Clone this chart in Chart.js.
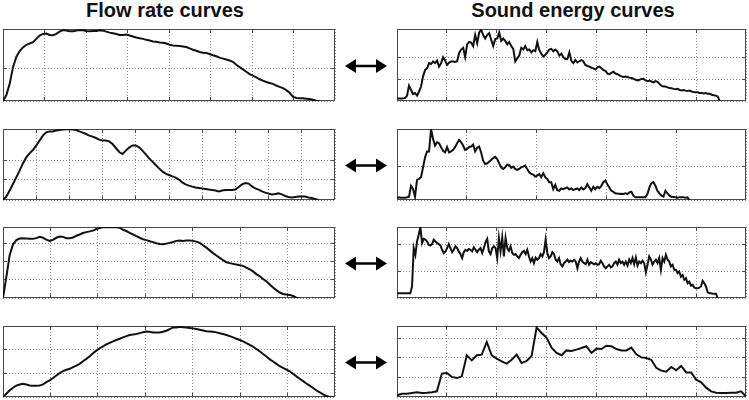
<!DOCTYPE html>
<html>
<head>
<meta charset="utf-8">
<title>Flow rate vs sound energy curves</title>
<script src="https://cdn.jsdelivr.net/npm/chart.js@4.4.0/dist/chart.umd.min.js"></script>
<style>
    body {
        margin: 0;
        width: 749px;
        height: 400px;
        position: relative;
        overflow: hidden;
        background: #fff;
        font-family: "Liberation Sans", Arial, sans-serif;
    }
    .title {
        position: absolute;
        top: 0;
        font-size: 20px;
        line-height: 20px;
        font-weight: bold;
        color: #111;
        white-space: nowrap;
        transform: translateX(-50%);
    }
    canvas { position: absolute; }
    #arrows { position: absolute; left: 0; top: 0; }
</style>
</head>
<body>
<div class="title" style="left:165px">Flow rate curves</div>
<div class="title" style="left:573px">Sound energy curves</div>
<svg id="arrows" width="749" height="400"></svg>

<script>
// Flow rate curves (left column), y in grid units, sampled every flowStep grid units
const flow1 = [0, 0.18, 0.52, 1.03, 1.34, 1.52, 1.63, 1.71, 1.75, 1.79,
    1.89, 1.99, 2.04, 2.05, 2.01, 2.00, 2.04, 2.11, 2.16, 2.14,
    2.12, 2.12, 2.14, 2.16, 2.15, 2.13, 2.12, 2.13, 2.13, 2.15,
    2.14, 2.11, 2.08, 2.06, 2.04, 2.01, 2.01, 2.02, 1.99, 1.96,
    1.93, 1.91, 1.89, 1.86, 1.84, 1.81, 1.80, 1.78, 1.77, 1.75,
    1.71, 1.69, 1.68, 1.67, 1.66, 1.64, 1.60, 1.56, 1.53, 1.49,
    1.47, 1.46, 1.43, 1.39, 1.36, 1.32, 1.29, 1.26, 1.23, 1.19,
    1.10, 1.03, 0.96, 0.89, 0.82, 0.77, 0.72, 0.66, 0.62, 0.58,
    0.55, 0.52, 0.47, 0.43, 0.39, 0.33, 0.25, 0.13, 0.09, 0.08,
    0.08, 0.07, 0.06, 0.04, 0.01, 0];
const flow2 = [0, 0.17, 0.47, 0.80, 1.13, 1.47, 1.83, 2.13, 2.33, 2.50,
    2.72, 2.97, 3.22, 3.38, 3.43, 3.43, 3.47, 3.50, 3.52, 3.54,
    3.54, 3.53, 3.50, 3.43, 3.37, 3.30, 3.22, 3.17, 3.10, 3.02,
    2.97, 2.97, 2.93, 2.80, 2.60, 2.40, 2.30, 2.47, 2.62, 2.73,
    2.73, 2.63, 2.47, 2.28, 2.08, 1.92, 1.75, 1.58, 1.43, 1.32,
    1.25, 1.18, 1.12, 1.02, 0.88, 0.78, 0.72, 0.67, 0.63, 0.60,
    0.57, 0.55, 0.52, 0.50, 0.47, 0.43, 0.47, 0.50, 0.50, 0.50,
    0.52, 0.65, 0.78, 0.85, 0.82, 0.68, 0.58, 0.52, 0.43, 0.37,
    0.32, 0.28, 0.30, 0.33, 0.28, 0.20, 0.15, 0.13, 0.15, 0.17,
    0.18, 0.17, 0.13, 0.10, 0.05, 0];
const flow3 = [0, 1.15, 2.35, 2.94, 3.17, 3.26, 3.28, 3.26, 3.24, 3.24,
    3.28, 3.35, 3.30, 3.20, 3.13, 3.19, 3.30, 3.37, 3.35, 3.28,
    3.28, 3.31, 3.41, 3.48, 3.56, 3.61, 3.65, 3.69, 3.78, 3.83,
    3.87, 3.87, 3.87, 3.87, 3.87, 3.85, 3.74, 3.67, 3.57, 3.48,
    3.39, 3.30, 3.22, 3.17, 3.11, 3.06, 3.00, 2.96, 2.94, 2.98,
    3.02, 3.07, 3.13, 3.15, 3.13, 3.15, 3.15, 3.13, 3.09, 3.02,
    2.89, 2.76, 2.61, 2.46, 2.33, 2.20, 2.07, 1.96, 1.91, 1.87,
    1.83, 1.80, 1.76, 1.67, 1.57, 1.46, 1.31, 1.19, 1.04, 0.91,
    0.74, 0.57, 0.43, 0.30, 0.22, 0.19, 0.17, 0.11, 0.02, 0];
const flow4 = [0, 0.14, 0.28, 0.39, 0.48, 0.53, 0.56, 0.53, 0.49, 0.48,
    0.48, 0.49, 0.53, 0.63, 0.70, 0.80, 0.91, 1.01, 1.09, 1.15,
    1.19, 1.26, 1.33, 1.40, 1.51, 1.61, 1.72, 1.85, 1.96, 2.06,
    2.14, 2.22, 2.29, 2.35, 2.41, 2.46, 2.52, 2.57, 2.62, 2.64,
    2.66, 2.70, 2.74, 2.77, 2.76, 2.73, 2.73, 2.73, 2.76, 2.80,
    2.87, 2.94, 2.94, 2.97, 2.95, 2.94, 2.92, 2.90, 2.87, 2.84,
    2.81, 2.78, 2.77, 2.76, 2.73, 2.69, 2.66, 2.62, 2.57, 2.52,
    2.46, 2.41, 2.35, 2.28, 2.20, 2.13, 2.03, 1.93, 1.82, 1.71,
    1.59, 1.50, 1.40, 1.30, 1.23, 1.16, 1.08, 0.98, 0.87, 0.77,
    0.67, 0.57, 0.48, 0.38, 0.28, 0.20, 0.11, 0.04, 0, 0];
const flowStep = [0.0803, 0.1, 0.0703, 0.0703];

// Sound energy curves (right column)
const sound1 = [0.11, 0.11, 0.11, 0.11, 0.14, 0.24, 0.71, 0.51, 0.32, 0.37,
    0.25, 0.44, 0.67, 1.14, 1.43, 1.51, 1.75, 1.71, 1.83, 1.75,
    1.87, 1.59, 1.75, 2.03, 1.87, 1.67, 1.78, 1.83, 1.83, 1.81,
    1.84, 2.22, 2.38, 2.46, 2.03, 2.62, 2.73, 2.70, 2.54, 3.05,
    2.67, 3.17, 3.30, 3.05, 2.89, 3.05, 3.14, 2.83, 2.54, 2.86,
    2.89, 3.17, 2.78, 2.89, 2.78, 2.62, 2.73, 2.54, 2.41, 1.83,
    1.98, 2.10, 2.46, 2.38, 2.54, 2.35, 2.38, 2.25, 2.35, 2.30,
    2.73, 2.35, 2.19, 2.06, 2.14, 2.25, 2.38, 2.41, 2.30, 2.38,
    2.30, 2.10, 2.19, 2.03, 1.94, 1.94, 2.25, 1.86, 1.75, 1.90,
    1.78, 1.84, 1.90, 1.83, 1.67, 1.62, 1.59, 1.54, 1.51, 1.46,
    1.56, 1.59, 1.51, 1.43, 1.40, 1.27, 1.24, 1.30, 1.35, 1.27,
    1.24, 1.19, 1.14, 1.11, 1.13, 1.11, 1.08, 1.06, 1.03, 0.98,
    0.95, 0.98, 1.02, 1.03, 0.95, 0.92, 0.95, 0.90, 0.86, 0.92,
    0.89, 0.79, 0.70, 0.67, 0.67, 0.63, 0.60, 0.59, 0.56, 0.54,
    0.56, 0.51, 0.49, 0.51, 0.48, 0.46, 0.48, 0.44, 0.41, 0.40,
    0.40, 0.37, 0.37, 0.35, 0.37, 0.33, 0.33, 0.29, 0.27, 0.25,
    0.21, 0];
const sound2 = [0.06, 0.08, 0.07, 0.07, 0.07, 0.08, 0.10, 0.43, 0.33, 0.10,
    0.61, 0.64, 0.69, 0.99, 1.29, 1.47, 1.47, 2.15, 1.85, 1.65,
    1.75, 1.72, 1.60, 1.49, 1.44, 1.60, 1.44, 1.47, 1.52, 1.60,
    1.72, 1.82, 1.75, 1.65, 1.52, 1.55, 1.60, 1.62, 1.68, 1.47,
    1.58, 1.62, 1.44, 1.19, 1.09, 1.11, 1.16, 1.21, 1.27, 1.31,
    1.24, 1.11, 0.99, 0.94, 0.99, 1.07, 1.06, 0.97, 1.01, 0.94,
    0.91, 0.94, 0.99, 1.01, 1.04, 0.94, 0.84, 0.79, 0.77, 0.71,
    0.74, 0.79, 0.69, 0.81, 0.69, 0.64, 0.54, 0.54, 0.33, 0.46,
    0.30, 0.28, 0.35, 0.33, 0.36, 0.38, 0.32, 0.35, 0.30, 0.33,
    0.35, 0.30, 0.38, 0.32, 0.36, 0.48, 0.38, 0.28, 0.40, 0.33,
    0.40, 0.36, 0.43, 0.54, 0.59, 0.48, 0.38, 0.28, 0.25, 0.20,
    0.20, 0.18, 0.19, 0.18, 0.20, 0.18, 0.23, 0.25, 0.13, 0.08,
    0.08, 0.08, 0.08, 0.08, 0.08, 0.18, 0.38, 0.51, 0.54, 0.43,
    0.28, 0.20, 0.13, 0.10, 0.28, 0.20, 0.13, 0.10, 0.09, 0.08,
    0.07, 0.08, 0.08, 0.08, 0.07, 0.08, 0];
const sound3 = [0.18, 0.18, 0.18, 0.18, 0.18, 0.18, 0.18, 0.18, 0.18, 0.43,
    1.86, 1.61, 2.11, 2.36, 2.64, 2.05, 2.21, 2.18, 2.11, 1.99,
    1.96, 2.01, 2.18, 2.11, 2.05, 2.01, 1.96, 1.80, 1.68, 1.74,
    1.86, 2.01, 1.86, 1.71, 1.80, 1.93, 1.86, 1.74, 1.64, 1.49,
    1.71, 1.80, 1.76, 1.83, 1.80, 1.74, 1.89, 1.80, 1.71, 1.80,
    1.86, 1.68, 1.86, 2.09, 2.21, 1.74, 1.64, 1.86, 1.93, 1.86,
    1.49, 2.24, 1.74, 2.26, 1.55, 2.24, 1.86, 1.76, 1.93, 1.68,
    1.61, 1.64, 1.55, 1.49, 1.61, 1.71, 1.76, 1.64, 1.80, 1.55,
    1.36, 1.49, 1.30, 1.51, 1.43, 1.49, 1.64, 1.55, 1.71, 2.18,
    1.68, 1.49, 1.55, 1.71, 1.64, 1.43, 1.36, 1.49, 1.26, 1.18,
    1.30, 1.36, 1.43, 1.34, 1.39, 1.36, 1.43, 1.36, 1.11, 1.36,
    1.49, 1.36, 1.30, 1.26, 1.43, 1.24, 1.34, 1.30, 1.26, 1.30,
    1.24, 1.26, 1.39, 1.30, 1.18, 1.11, 1.18, 1.24, 1.14, 1.18,
    1.30, 1.36, 1.24, 1.43, 1.30, 1.36, 1.24, 1.36, 1.21, 1.43,
    1.30, 1.49, 1.26, 1.51, 1.21, 1.36, 1.30, 1.39, 1.30, 0.96,
    1.24, 1.55, 1.43, 1.24, 1.36, 1.43, 1.30, 1.49, 1.05, 1.49,
    1.36, 1.61, 1.43, 1.36, 1.18, 1.24, 1.05, 1.05, 0.93, 0.99,
    0.80, 0.86, 0.68, 0.74, 0.55, 0.61, 0.46, 0.49, 0.39, 0.36,
    0.36, 0.39, 0.43, 0.64, 0.55, 0.43, 0.21, 0.18, 0.18, 0.16,
    0.16, 0.16, 0];
const sound4 = [0.09, 0.17, 0.17, 0.21, 0.24, 0.21, 0.22, 0.24, 0.29, 1.20,
    1.23, 1.03, 0.97, 1.06, 2.14, 1.88, 2.14, 2.17, 2.82, 2.14,
    1.97, 1.83, 1.71, 1.91, 2.17, 1.74, 1.85, 2.10, 3.56, 3.28,
    3.04, 2.53, 2.26, 2.14, 2.39, 2.36, 2.43, 2.51, 2.60, 2.26,
    2.48, 2.46, 2.63, 2.60, 2.46, 2.39, 2.39, 2.53, 2.19, 2.03,
    2.00, 1.91, 1.50, 1.35, 1.30, 1.54, 1.37, 1.59, 1.26, 1.26,
    0.89, 0.75, 0.48, 0.29, 0.22, 0.21, 0.21, 0.22, 0.22, 0.29, 0.03];
const soundStep = [0.0402, 0.0287, 0.0335, 0.1];

// Axis ranges per panel (grid lines every 1 unit)
const flowXMax = [8, 10, 7, 7];
const flowYMax = [2.19, 3.55, 3.89, 3.0];
const soundXMax = [7, 5, 7, 7];
const soundYMax = [3.33, 2.15, 2.65, 3.64];

const flows = [flow1, flow2, flow3, flow4];
const sounds = [sound1, sound2, sound3, sound4];

// Layout
const rowTop = [29, 129, 227, 326];
const rowHeight = [72, 71, 71, 71];
const leftX = 3, leftW = 332;
const rightX = 397, rightW = 349;
const PAD = 4;

// Box around each axes plus small inward tick marks (Matlab look)
const framePlugin = {
    id: 'frame',
    beforeDatasetsDraw(chart) {
        const ctx = chart.ctx;
        const a = chart.chartArea;
        const xs = chart.scales.x, ys = chart.scales.y;
        ctx.save();
        ctx.strokeStyle = '#4a4a4a';
        ctx.lineWidth = 1;
        ctx.strokeRect(a.left + 0.5, a.top + 0.5, a.right - a.left - 1, a.bottom - a.top - 1);
        ctx.beginPath();
        xs.ticks.forEach(t => {
            if (t.value <= xs.min || t.value >= xs.max) return;
            const px = Math.round(xs.getPixelForValue(t.value) - 0.5) + 0.5;
            ctx.moveTo(px, a.bottom); ctx.lineTo(px, a.bottom - 4);
            ctx.moveTo(px, a.top); ctx.lineTo(px, a.top + 4);
        });
        ys.ticks.forEach(t => {
            if (t.value <= ys.min || t.value >= ys.max) return;
            const py = Math.round(ys.getPixelForValue(t.value) - 0.5) + 0.5;
            ctx.moveTo(a.left, py); ctx.lineTo(a.left + 4, py);
            ctx.moveTo(a.right, py); ctx.lineTo(a.right - 4, py);
        });
        ctx.stroke();
        ctx.restore();
    }
};

function gridAxis(max) {
    return {
        type: 'linear',
        min: 0,
        max: max,
        ticks: { display: false, stepSize: 1 },
        grid: { color: '#8a8a8a', lineWidth: 1, drawTicks: false },
        border: { display: false, dash: [1, 2] }
    };
}

function makePanel(left, top, width, height, values, step, xMax, yMax) {
    const canvas = document.createElement('canvas');
    canvas.width = width + 2 * PAD;
    canvas.height = height + 2 * PAD;
    canvas.style.left = (left - PAD) + 'px';
    canvas.style.top = (top - PAD) + 'px';
    document.body.appendChild(canvas);

    new Chart(canvas, {
        type: 'line',
        data: {
            datasets: [{
                data: values.map((v, i) => ({ x: i * step, y: v })),
                borderColor: '#111',
                borderWidth: 2,
                pointRadius: 0,
                tension: 0,
                fill: false
            }]
        },
        options: {
            responsive: false,
            animation: false,
            devicePixelRatio: 1,
            events: [],
            layout: { padding: PAD, autoPadding: false },
            plugins: { legend: { display: false }, tooltip: { enabled: false } },
            scales: { x: gridAxis(xMax), y: gridAxis(yMax) }
        },
        plugins: [framePlugin]
    });
}

// Double-headed arrows between the columns
function drawArrows() {
    const svg = document.getElementById('arrows');
    const ns = 'http://www.w3.org/2000/svg';
    rowTop.forEach((t, r) => {
        const y = t + rowHeight[r] / 2 + 1;
        const line = document.createElementNS(ns, 'line');
        line.setAttribute('x1', 354); line.setAttribute('x2', 379);
        line.setAttribute('y1', y); line.setAttribute('y2', y);
        line.setAttribute('stroke', '#000'); line.setAttribute('stroke-width', 2.5);
        svg.appendChild(line);
        const heads = [
            [[345, y], [356, y - 7], [356, y + 7]],
            [[387, y], [376, y - 7], [376, y + 7]]
        ];
        heads.forEach(h => {
            const p = document.createElementNS(ns, 'polygon');
            p.setAttribute('points', h.map(q => q.join(',')).join(' '));
            p.setAttribute('fill', '#000');
            svg.appendChild(p);
        });
    });
}

for (let r = 0; r < 4; r++) {
    makePanel(leftX, rowTop[r], leftW, rowHeight[r], flows[r], flowStep[r], flowXMax[r], flowYMax[r]);
    makePanel(rightX, rowTop[r], rightW, rowHeight[r], sounds[r], soundStep[r], soundXMax[r], soundYMax[r]);
}
drawArrows();
</script>
</body>
</html>
